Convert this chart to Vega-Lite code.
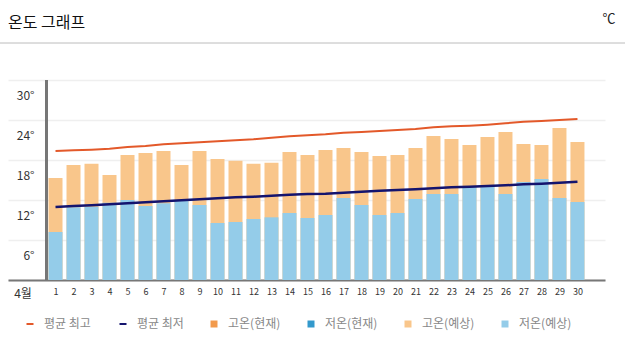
{
  "$schema": "https://vega.github.io/schema/vega-lite/v6.json",
  "width": 597,
  "height": 200,
  "autosize": {"type": "none"},
  "padding": {"left": 8, "top": 80, "right": 20, "bottom": 73},
  "background": "white",
  "config": {
    "view": {"stroke": null},
    "font": "Noto Sans CJK KR",
    "axisY": {"labelOverlap": false},
    "axis": {"labelOverlap": false}
  },
  "title": {
    "text": "온도 그래프",
    "anchor": "start",
    "frame": "group",
    "baseline": "middle",
    "offset": -26.5,
    "fontSize": 16,
    "fontWeight": "normal",
    "color": "#111111",
    "font": "Noto Sans CJK KR"
  },
  "data": {
    "values": [
      {"day": 1, "high": 15.3, "low": 7.2, "avgHigh": 19.35, "avgLow": 10.95},
      {"day": 2, "high": 17.25, "low": 10.9, "avgHigh": 19.45, "avgLow": 11.1},
      {"day": 3, "high": 17.45, "low": 11.0, "avgHigh": 19.55, "avgLow": 11.2},
      {"day": 4, "high": 15.75, "low": 11.6, "avgHigh": 19.7, "avgLow": 11.35},
      {"day": 5, "high": 18.75, "low": 12.0, "avgHigh": 19.95, "avgLow": 11.5},
      {"day": 6, "high": 19.05, "low": 11.1, "avgHigh": 20.1, "avgLow": 11.65},
      {"day": 7, "high": 19.35, "low": 11.5, "avgHigh": 20.35, "avgLow": 11.8},
      {"day": 8, "high": 17.25, "low": 11.9, "avgHigh": 20.5, "avgLow": 11.95},
      {"day": 9, "high": 19.35, "low": 11.25, "avgHigh": 20.65, "avgLow": 12.1},
      {"day": 10, "high": 18.15, "low": 8.55, "avgHigh": 20.8, "avgLow": 12.25},
      {"day": 11, "high": 17.9, "low": 8.7, "avgHigh": 20.95, "avgLow": 12.4},
      {"day": 12, "high": 17.45, "low": 9.15, "avgHigh": 21.1, "avgLow": 12.5},
      {"day": 13, "high": 17.6, "low": 9.4, "avgHigh": 21.35, "avgLow": 12.65},
      {"day": 14, "high": 19.2, "low": 10.05, "avgHigh": 21.55, "avgLow": 12.8},
      {"day": 15, "high": 18.75, "low": 9.3, "avgHigh": 21.7, "avgLow": 12.9},
      {"day": 16, "high": 19.5, "low": 9.75, "avgHigh": 21.85, "avgLow": 12.95},
      {"day": 17, "high": 19.8, "low": 12.3, "avgHigh": 22.1, "avgLow": 13.1},
      {"day": 18, "high": 19.2, "low": 11.25, "avgHigh": 22.2, "avgLow": 13.25},
      {"day": 19, "high": 18.6, "low": 9.75, "avgHigh": 22.35, "avgLow": 13.4},
      {"day": 20, "high": 18.75, "low": 10.05, "avgHigh": 22.5, "avgLow": 13.5},
      {"day": 21, "high": 19.8, "low": 12.15, "avgHigh": 22.65, "avgLow": 13.6},
      {"day": 22, "high": 21.6, "low": 12.9, "avgHigh": 22.9, "avgLow": 13.75},
      {"day": 23, "high": 21.15, "low": 12.9, "avgHigh": 23.05, "avgLow": 13.9},
      {"day": 24, "high": 20.25, "low": 14.1, "avgHigh": 23.15, "avgLow": 14.0},
      {"day": 25, "high": 21.45, "low": 14.2, "avgHigh": 23.3, "avgLow": 14.1},
      {"day": 26, "high": 22.2, "low": 12.9, "avgHigh": 23.5, "avgLow": 14.2},
      {"day": 27, "high": 20.4, "low": 14.7, "avgHigh": 23.75, "avgLow": 14.35},
      {"day": 28, "high": 20.25, "low": 15.15, "avgHigh": 23.85, "avgLow": 14.45},
      {"day": 29, "high": 22.8, "low": 12.3, "avgHigh": 24.0, "avgLow": 14.6},
      {"day": 30, "high": 20.7, "low": 11.7, "avgHigh": 24.15, "avgLow": 14.75}
    ]
  },
  "encoding": {
    "x": {
      "field": "day",
      "type": "quantitative",
      "scale": {"domain": [-1.64, 31.53], "nice": false, "zero": false, "padding": 0},
      "axis": {
        "values": [1,2,3,4,5,6,7,8,9,10,11,12,13,14,15,16,17,18,19,20,21,22,23,24,25,26,27,28,29,30],
        "tickCount": 40,
        "format": "d",
        "title": "4월",
        "titleX": 14.5,
        "titleY": 13,
        "titleAlign": "center",
        "titleBaseline": "middle",
        "titleFontSize": 12,
        "titleFontWeight": "normal",
        "titleColor": "#333333",
        "titleFont": "Noto Sans CJK KR",
        "labelFontSize": 9,
        "labelColor": "#333333",
        "labelFont": "Noto Sans CJK KR",
        "labelPadding": 7,
        "labelFlush": false,
        "labelOverlap": false,
        "ticks": false,
        "tickSize": 0,
        "grid": false,
        "domainColor": "#777777",
        "domainWidth": 2
      }
    }
  },
  "layer": [
    {
      "mark": {"type": "bar", "size": 14},
      "encoding": {
        "y": {
          "field": "high",
          "type": "quantitative",
          "scale": {"domain": [0, 30], "nice": false},
          "axis": {
            "values": [0, 6, 12, 18, 24, 30],
            "tickCount": 10,
            "labelExpr": "datum.value == 0 ? '' : datum.value + '°'",
            "labelOverlap": false,
            "labelOffset": 15,
            "labelPadding": -26,
            "labelAlign": "right",
            "labelBaseline": "middle",
            "labelFontSize": 12,
            "labelColor": "#333333",
            "labelFont": "Noto Sans CJK KR",
            "ticks": false,
            "tickSize": 0,
            "domain": false,
            "grid": true,
            "gridColor": "#efefef",
            "gridWidth": 1.5,
            "title": "℃",
            "titleAngle": 0,
            "titleX": 600.5,
            "titleY": -61.7,
            "titleAlign": "center",
            "titleBaseline": "middle",
            "titleFontSize": 13,
            "titleFontWeight": "normal",
            "titleColor": "#222222",
            "titleFont": "Noto Sans CJK KR"
          }
        },
        "color": {
          "datum": "고온(예상)",
          "scale": {
            "domain": ["평균 최고", "평균 최저", "고온(현재)", "저온(현재)", "고온(예상)", "저온(예상)"],
            "range": ["#e3592a", "#14146e", "#f29a4c", "#3399cc", "#f9c68b", "#94cce9"]
          },
          "legend": {
            "orient": "none",
            "legendX": 16,
            "legendY": 238,
            "direction": "horizontal",
            "columns": 6,
            "title": null,
            "labelFontSize": 12,
            "labelColor": "#888888",
            "labelFont": "Noto Sans CJK KR",
            "symbolSize": 49,
            "labelOffset": 8,
            "columnPadding": 24,
            "padding": 0,
            "labelLimit": 200,
            "encode": {
              "symbols": {
                "update": {
                  "shape": {"signal": "datum.index < 2 ? 'stroke' : 'square'"},
                  "strokeWidth": {"signal": "datum.index < 2 ? 2 : 0"},
                  "fill": {"scale": "color", "field": "value"},
                  "stroke": {"scale": "color", "field": "value"},
                  "opacity": {"value": 1},
                  "fillOpacity": {"value": 1},
                  "strokeOpacity": {"value": 1}
                }
              }
            }
          }
        }
      }
    },
    {
      "mark": {"type": "bar", "size": 14},
      "encoding": {
        "y": {"field": "low", "type": "quantitative"},
        "color": {"datum": "저온(예상)"}
      }
    },
    {
      "mark": {"type": "line", "strokeWidth": 2},
      "encoding": {
        "y": {"field": "avgHigh", "type": "quantitative"},
        "color": {"datum": "평균 최고"}
      }
    },
    {
      "mark": {"type": "line", "strokeWidth": 2.5},
      "encoding": {
        "y": {"field": "avgLow", "type": "quantitative"},
        "color": {"datum": "평균 최저"}
      }
    },
    {
      "mark": {"type": "rule", "color": "#777777", "strokeWidth": 2},
      "encoding": {
        "x": {"datum": 0.5, "type": "quantitative", "scale": {"domain": [-1.64, 31.53], "nice": false, "zero": false, "padding": 0}},
        "y": {"datum": 0, "type": "quantitative"},
        "y2": {"datum": 30}
      }
    },
    {
      "mark": {"type": "rule", "color": "#dddddd", "strokeWidth": 1.5},
      "encoding": {
        "y": {"datum": 35.5, "type": "quantitative", "scale": {"domain": [0, 30], "nice": false}},
        "x": {"datum": -2.09, "type": "quantitative", "scale": {"domain": [-1.64, 31.53], "nice": false, "zero": false, "padding": 0}},
        "x2": {"datum": 32.64}
      }
    }
  ]
}
